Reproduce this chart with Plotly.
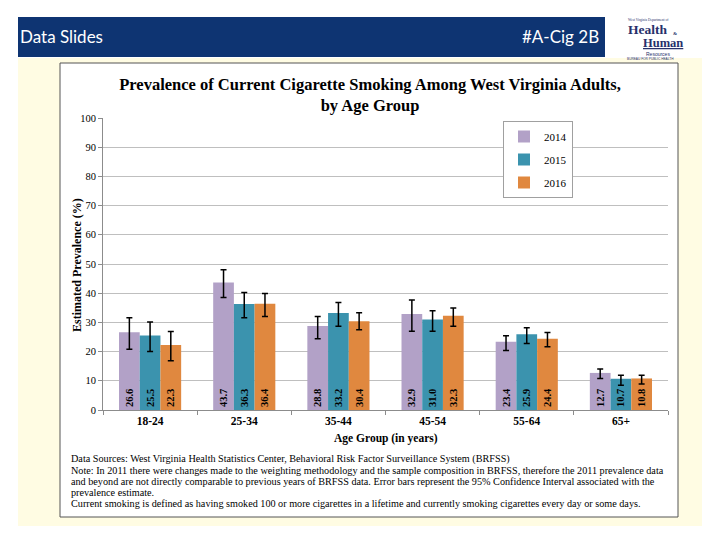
import plotly.graph_objects as go

age_groups = ["18-24", "25-34", "35-44", "45-54", "55-64", "65+"]
years = ["2014", "2015", "2016"]

prev_2014 = [26.6, 43.7, 28.8, 32.9, 23.4, 12.7]
ci_hi_2014 = [31.6, 48.0, 32.0, 37.7, 25.4, 14.0]
ci_lo_2014 = [20.8, 38.5, 24.4, 27.0, 20.4, 10.8]

prev_2015 = [25.5, 36.3, 33.2, 31.0, 25.9, 10.7]
ci_hi_2015 = [30.1, 40.2, 36.8, 34.0, 28.2, 11.9]
ci_lo_2015 = [20.0, 31.6, 28.7, 27.0, 22.8, 8.5]

prev_2016 = [22.3, 36.4, 30.4, 32.3, 24.4, 10.8]
ci_hi_2016 = [26.9, 39.9, 33.3, 34.9, 26.5, 11.9]
ci_lo_2016 = [16.9, 32.0, 27.5, 28.7, 21.7, 8.9]

y_ticks = [0, 10, 20, 30, 40, 50, 60, 70, 80, 90, 100]

colors = ["#B2A1C7", "#3B93AE", "#E0883F"]

notes = [
    "Data Sources: West Virginia Health Statistics Center, Behavioral Risk Factor Surveillance System (BRFSS)",
    "Note: In 2011 there were changes made to the weighting methodology and the sample composition in BRFSS, therefore the 2011 prevalence data",
    "and beyond are not directly comparable to previous years of BRFSS data. Error bars represent the 95% Confidence Interval associated with the",
    "prevalence estimate.",
    "Current smoking is defined as having smoked 100 or more cigarettes in a lifetime and currently smoking cigarettes every day or some days.",
]

SERIF = "Liberation Serif, Times New Roman, serif"

# page body margin offset (figure is placed 8px from the window's top-left)
OFF = 8
W, H = 704, 524
L = 103 - OFF
R = W - (668 - OFF)
T = 118 - OFF
B = H - (410 - OFF)
PW, PH = W - L - R, H - T - B


def px(x):
    return (x - OFF - L) / PW


def py(y):
    return (H - B - (y - OFF)) / PH


fig = go.Figure()
series = [
    (prev_2014, ci_hi_2014, ci_lo_2014),
    (prev_2015, ci_hi_2015, ci_lo_2015),
    (prev_2016, ci_hi_2016, ci_lo_2016),
]
for yr, (vals, hi, lo), col in zip(years, series, colors):
    fig.add_trace(go.Bar(
        name=yr,
        legendgroup=yr,
        x=age_groups,
        y=vals,
        marker=dict(color=col, line=dict(width=0)),
        texttemplate="<b>%{y:.1f}</b>",
        textposition="inside",
        insidetextanchor="start",
        textangle=-90,
        textfont=dict(family=SERIF, size=10.5, color="black"),
        error_y=dict(
            type="data",
            symmetric=False,
            array=[h - v for h, v in zip(hi, vals)],
            arrayminus=[v - l for v, l in zip(vals, lo)],
            color="black",
            thickness=1.5,
            width=3,
        ),
    ))

shapes = [
    dict(type="rect", xref="paper", yref="paper", x0=px(18), x1=px(702), y0=py(58), y1=py(526),
         fillcolor="#FFFCE3", line=dict(width=0), layer="below"),
    dict(type="rect", xref="paper", yref="paper", x0=px(60), x1=px(678), y0=py(63), y1=py(517),
         fillcolor="white", line=dict(width=1, color="#555555"), layer="below"),
    dict(type="rect", xref="paper", yref="paper", x0=px(18), x1=px(605), y0=py(17), y1=py(57),
         fillcolor="#0E3472", line=dict(width=0), layer="below"),
]


def ann(text, x, y, size, color="black", family=SERIF, xanchor="left", **kw):
    return dict(text=text, x=px(x), y=py(y), xref="paper", yref="paper", xanchor=xanchor,
                yanchor="middle", showarrow=False, borderpad=0,
                font=dict(family=family, size=size, color=color), **kw)


NAVY = "#27306B"
annotations = [
    ann("Data Slides", 19, 37, 17, "white", "Lato, sans-serif"),
    ann("#A-Cig 2B", 600, 37, 17, "white", "Lato, sans-serif", xanchor="right"),
    ann("West Virginia Department of", 627, 20, 3.5, NAVY),
    ann("<b>Health</b>", 627, 29.5, 13.5, NAVY),
    ann("<b>&</b>", 672, 34, 5, NAVY),
    ann("<b><u>Human</u></b>", 642, 43, 12.5, NAVY),
    ann("Resources", 645, 54, 5, NAVY, "Liberation Sans, sans-serif"),
    ann("BUREAU FOR PUBLIC HEALTH", 626, 58.5, 3.2, NAVY, "Liberation Sans, sans-serif"),
    ann("<b>Estimated Prevalence (%)</b>", 77, 265, 12, xanchor="center", textangle=-90),
    ann("<b>Age Group (in years)</b>", 386, 438, 11.5, xanchor="center"),
]

for i, line in enumerate(notes):
    annotations.append(ann(line, 70, 459 + 11 * i, 10.2))

fig.update_layout(
    width=W, height=H,
    margin=dict(l=L, r=R, t=T, b=B, autoexpand=False),
    paper_bgcolor="white",
    plot_bgcolor="rgba(0,0,0,0)",
    barmode="group",
    bargap=0.34,
    bargroupgap=0,
    title=dict(
        text="<b>Prevalence of Current Cigarette Smoking Among West Virginia Adults,<br>by Age Group</b>",
        x=(370 - OFF) / W, xanchor="center", xref="container",
        y=1 - (90 - OFF) / H, yanchor="middle", yref="container",
        font=dict(family=SERIF, size=16.5, color="black"),
    ),
    xaxis=dict(
        showline=True, linecolor="#8C8C8C", linewidth=1,
        ticks="outside", tickson="boundaries", ticklen=4, tickcolor="#8C8C8C",
        tickfont=dict(family=SERIF, size=11.5, color="black", weight="bold"),
        showgrid=False,
    ),
    yaxis=dict(
        range=[0, 100], tickvals=y_ticks,
        showline=True, linecolor="#8C8C8C", linewidth=1,
        ticks="outside", ticklen=4, tickcolor="#8C8C8C",
        showgrid=True, gridcolor="#BFBFBF", gridwidth=1,
        zeroline=False,
        tickfont=dict(family=SERIF, size=10.5, color="black"),
    ),
    legend=dict(
        x=px(503), y=py(121), xanchor="left", yanchor="top",
        bgcolor="white", bordercolor="#A0A0A0", borderwidth=1,
        font=dict(family=SERIF, size=11, color="black"),
        itemwidth=30, traceorder="grouped", tracegroupgap=4,
    ),
    shapes=shapes,
    annotations=annotations,
)

fig.write_html("out.html")
